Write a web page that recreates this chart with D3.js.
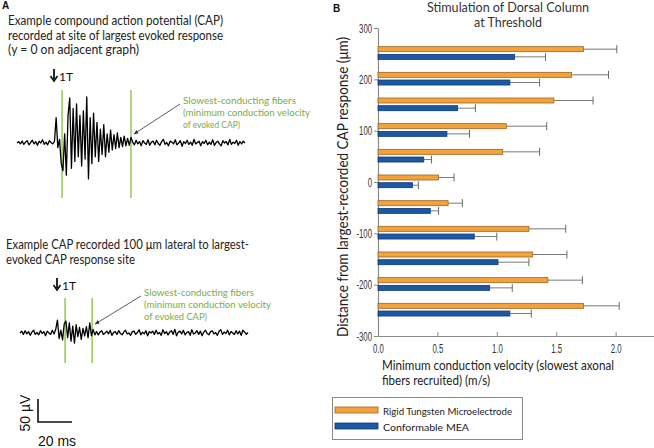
<!DOCTYPE html>
<html>
<head>
<meta charset="utf-8">
<script src="https://cdn.jsdelivr.net/npm/d3@7"></script>
<style>
  body { margin: 0; background: #fff; }
  svg { display: block; }
</style>
</head>
<body>
<div id="chart"></div>
<script>
// ---- data (panel B) ----
var positions = [250, 200, 150, 100, 50, 0, -50, -100, -150, -200, -250];
var tungstenMean = [1.73, 1.63, 1.48, 1.08, 1.05, 0.51, 0.59, 1.27, 1.30, 1.43, 1.73];
var tungstenErr = [0.28, 0.31, 0.33, 0.34, 0.31, 0.13, 0.12, 0.31, 0.29, 0.29, 0.30];
var meaMean = [1.15, 1.11, 0.67, 0.58, 0.385, 0.29, 0.44, 0.81, 1.01, 0.94, 1.11];
var meaErr = [0.26, 0.25, 0.15, 0.19, 0.065, 0.05, 0.07, 0.19, 0.26, 0.19, 0.18];
var yTicks = [300, 200, 100, 0, -100, -200, -300];
var xTicks = [0, 0.5, 1.0, 1.5, 2.0];
var seriesNames = ["Rigid Tungsten Microelectrode", "Conformable MEA"];

// ---- data (panel A), CAP traces in microvolts, one sample per ms ----
var capLargest = [0, 3, -2, 4, -3, 2, 5, -4, 1, 6, -2, 3, -5, 4, 0, 7, -3, 2, -4, 5, 1, -2, 3,
  55, -10, 8, -45, -60, 20, -70, 60, 98, -55, 75, -40, 85, -30, 60, -50, 70, -35, 100, -78,
  55, -45, 65, -30, 45, -40, 30, -25, 40, -30, 20, -20, 28, -15, 18, -12, 22, -10, 12, -8,
  15, -6, 10, -5, 12, 2,
  -4, 6, -2, 3, -6, 5, 0, -3, 7, -5, 2, 4, -4, 6, -1, -5, 3, 8, -3, 1, -6, 4, 2, -2, 7, -4,
  0, 5, -7, 3, -1, 6, -3, 2, -5, 8, -2, 1, 4, -6, 3, -1, 6, -4, 2, -3, 7, -5, 1, 4, -2, -6,
  5, 0, 3, -4, 8, -3, 2, -1, 6, -5, 3, -2, 4, 0];
var capLateral = [0, 4, -3, 5, -2, 3, -5, 2, 6, -3, 1, -4, 5, -1, 3, -6, 4, 0, -3, 6, -2,
  8, 28, -12, 6, -15, 20, 26, -10, 22, -18, 15, -22, 18, -8, 12, -14, 10, -6, 14, -10, 22, -6, 8, -4,
  3, -4, 2, 5, -3, 0, 4, -2, 6, -5, 1, 3, -3, 5, -1, -4, 2, 6, -2, 0, -5, 3, 4, -3, 1, 7,
  -4, 2, -2, 5, -6, 3, 0, 4, -3, 6, -2, 1, -5, 7, -1, 3, -4, 2, 5, -3, 8, -6, 2, 4, -2, 6,
  -4, 1, 3, -5, 7, -2, 0, 5, -3, 4, -6, 2, 6, -1, -4, 3, 5, -2, 1, -5, 4, 7, -3, 2, -1, 6,
  -4, 3, 0, -3, 5, -2, 4, -5, 6, 2, -3, 1];
var capLargestMarks = [26.5, 67];   // ms
var capLateralMarks = [26.5, 42.4]; // ms

var W = 654, H = 448;
var orange = "#f6a23b", orangeLine = "#9a6526";
var blue = "#1c58a4", blueLine = "#0d3a74";
var green = "#9acb5f", greenText = "#78ad44";
var textFont = "Lato, 'Open Sans', sans-serif";
var narrowFont = "'Liberation Sans', Arial, sans-serif";

var svg = d3.select("#chart").append("svg").attr("width", W).attr("height", H);

svg.append("defs").append("marker")
  .attr("id", "arrow").attr("viewBox", "0 0 10 10").attr("refX", 9).attr("refY", 5)
  .attr("markerWidth", 6).attr("markerHeight", 6).attr("orient", "auto")
  .append("path").attr("d", "M0,1 L10,5 L0,9 z").attr("fill", "#333");

// text helper: centered vertically on y, squeezed to width w if given
function label(txt, x, y, size, w, color, anchor) {
  var t = svg.append("text").text(txt)
    .attr("x", x).attr("y", y)
    .attr("dominant-baseline", "central")
    .attr("font-family", textFont).attr("font-size", size + "px")
    .attr("fill", color || "#222")
    .attr("text-anchor", anchor || "start");
  if (w) t.attr("textLength", w).attr("lengthAdjust", "spacingAndGlyphs");
  return t;
}

// ================= panel A =================
svg.append("text").text("A").attr("x", 2).attr("y", 9)
  .attr("font-family", "'Liberation Sans', Arial, sans-serif").attr("font-weight", "bold")
  .attr("font-size", "10px").attr("fill", "#111");

label("Example compound action potential (CAP)", 8, 20, 13.5, 215);
label("recorded at site of largest evoked response", 8, 34.5, 13.5, 215);
label("(y = 0 on adjacent graph)", 8, 49, 13.5, 131);

label("Example CAP recorded 100 \u03bcm lateral to largest-", 6, 244, 13.5, 243);
label("evoked CAP response site", 6, 258.5, 13.5, 129);

var uvToPx = d3.scaleLinear().domain([0, 50]).range([0, -23]);

function drawTrace(values, marks, x0, x1, baseY, markTop, markBottom, stimY, note) {
  var tx = d3.scaleLinear().domain([0, 134]).range([x0, x1]);
  var g = svg.append("g").attr("transform", "translate(0," + baseY + ")");
  g.selectAll("line.mark").data(marks).enter().append("line")
    .attr("class", "mark")
    .attr("x1", function(d) { return tx(d); }).attr("x2", function(d) { return tx(d); })
    .attr("y1", markTop - baseY).attr("y2", markBottom - baseY)
    .attr("stroke", green).attr("stroke-width", 1.6);
  var line = d3.line()
    .x(function(d, i) { return tx(i); })
    .y(function(d) { return uvToPx(d); });
  g.append("path").datum(values).attr("d", line)
    .attr("fill", "none").attr("stroke", "#000").attr("stroke-width", 1.3)
    .attr("stroke-linejoin", "round");

  // stimulus marker: arrow + "1T"
  var sx = tx(0) + 37;
  svg.append("path")
    .attr("d", "M" + sx + "," + (stimY - 6) + " V" + (stimY + 4))
    .attr("stroke", "#111").attr("stroke-width", 1.8);
  svg.append("path")
    .attr("d", "M" + (sx - 3.5) + "," + (stimY + 1) + " L" + sx + "," + (stimY + 6) +
      " L" + (sx + 3.5) + "," + (stimY + 1))
    .attr("fill", "none").attr("stroke", "#111").attr("stroke-width", 1.6);
  label("1T", sx + 5, stimY + 1, 12, null, "#111");

  // annotation
  label("Slowest-conducting fibers", note.x, note.y, 10, note.w[0], greenText);
  label("(minimum conduction velocity", note.x, note.y + 12, 10, note.w[1], greenText);
  label("of evoked CAP)", note.x, note.y + 24, 10, note.w[2], greenText);
  svg.append("line")
    .attr("x1", note.x - 3).attr("y1", note.y + 4)
    .attr("x2", tx(marks[1]) + 3).attr("y2", baseY - 9)
    .attr("stroke", "#333").attr("stroke-width", 0.8)
    .attr("marker-end", "url(#arrow)");
  return tx;
}

var tx1 = drawTrace(capLargest, capLargestMarks, 17, 245, 143, 90, 198, 75,
  { x: 183, y: 100, w: [113, 127, 57] });
drawTrace(capLateral, capLateralMarks, 20, 248, 333, 298, 363, 284,
  { x: 144, y: 292, w: [110, 127, 63] });

// scale bar: 20 ms, 50 uV
var sbX = 38, sbY = 422;
var sbW = tx1(20) - tx1(0);
svg.append("path")
  .attr("d", "M" + sbX + "," + (sbY + uvToPx(50)) + " V" + sbY + " H" + (sbX + sbW))
  .attr("fill", "none").attr("stroke", "#111").attr("stroke-width", 1.6);
svg.append("text").text("20 ms").attr("x", sbX).attr("y", 441)
  .attr("dominant-baseline", "central")
  .attr("font-family", "'Liberation Sans', Arial, sans-serif").attr("font-size", "14px")
  .attr("fill", "#111");
svg.append("text").text("50 \u00b5V")
  .attr("transform", "translate(25,413) rotate(-90)")
  .attr("text-anchor", "middle").attr("dominant-baseline", "central")
  .attr("font-family", "'Liberation Sans', Arial, sans-serif").attr("font-size", "14px")
  .attr("fill", "#111");

// ================= panel B =================
svg.append("text").text("B").attr("x", 333).attr("y", 12)
  .attr("font-family", "'Liberation Sans', Arial, sans-serif").attr("font-weight", "bold")
  .attr("font-size", "10px").attr("fill", "#111");

label("Stimulation of Dorsal Column", 508, 7, 13, 162, "#333", "middle");
label("at Threshold", 508, 22, 13, 68, "#333", "middle");

var x = d3.scaleLinear().domain([0, 2.323]).range([378, 654]);
var y = d3.scaleLinear().domain([-300, 300]).range([336, 28]);

var yAxis = svg.append("g").attr("transform", "translate(378,0)")
  .call(d3.axisLeft(y).tickValues(yTicks).tickSize(4).tickSizeOuter(0)
    .tickFormat(function(d) { return String(d); }));
var xAxis = svg.append("g").attr("transform", "translate(0,336)")
  .call(d3.axisBottom(x).tickValues(xTicks).tickSize(-4).tickSizeOuter(0)
    .tickFormat(d3.format(".1f")));
[xAxis, yAxis].forEach(function(a) {
  a.select(".domain").attr("stroke", "#8a8a8a").attr("stroke-width", 1.2);
  a.selectAll(".tick line").attr("stroke", "#8a8a8a");
  a.selectAll(".tick text").attr("font-family", narrowFont).attr("font-size", "12.5px")
    .attr("fill", "#333")
    .each(function() {
      // condensed look: squeeze glyphs horizontally
      var len = this.getComputedTextLength();
      d3.select(this).attr("textLength", len * 0.62).attr("lengthAdjust", "spacingAndGlyphs");
    });
});
xAxis.selectAll(".tick text").attr("y", 8).attr("dy", "0.71em");
yAxis.selectAll(".tick text").attr("x", -6);

var rows = positions.map(function(p, i) {
  return { pos: p, t: tungstenMean[i], te: tungstenErr[i], m: meaMean[i], me: meaErr[i] };
});

function drawSeries(key, errKey, offset, h, fill, stroke) {
  var g = svg.append("g");
  g.selectAll("line.err").data(rows).enter().append("line")
    .attr("x1", function(d) { return x(d[key]); })
    .attr("x2", function(d) { return x(d[key] + d[errKey]); })
    .attr("y1", function(d) { return y(d.pos) + offset + h / 2; })
    .attr("y2", function(d) { return y(d.pos) + offset + h / 2; })
    .attr("stroke", "#7a7a7a").attr("stroke-width", 1);
  g.selectAll("line.cap").data(rows).enter().append("line")
    .attr("x1", function(d) { return x(d[key] + d[errKey]); })
    .attr("x2", function(d) { return x(d[key] + d[errKey]); })
    .attr("y1", function(d) { return y(d.pos) + offset + h / 2 - 4; })
    .attr("y2", function(d) { return y(d.pos) + offset + h / 2 + 4; })
    .attr("stroke", "#6a6a6a").attr("stroke-width", 1);
  g.selectAll("rect").data(rows).enter().append("rect")
    .attr("x", x(0))
    .attr("y", function(d) { return y(d.pos) + offset; })
    .attr("width", function(d) { return x(d[key]) - x(0); })
    .attr("height", h)
    .attr("fill", fill).attr("stroke", stroke).attr("stroke-width", 0.8);
}
drawSeries("t", "te", -7, 5, orange, orangeLine);
drawSeries("m", "me", 0.7, 5, blue, blueLine);

// axis titles
svg.append("text").text("Distance from largest-recorded CAP response (\u03bcm)")
  .attr("transform", "translate(342,187) rotate(-90)")
  .attr("text-anchor", "middle").attr("dominant-baseline", "central")
  .attr("font-family", textFont).attr("font-size", "15px").attr("fill", "#222")
  .attr("textLength", 300).attr("lengthAdjust", "spacingAndGlyphs");
label("Minimum conduction velocity (slowest axonal", 382, 365, 13.5, 232);
label("fibers recruited) (m/s)", 382, 380, 13.5, 108);

// legend
svg.append("rect").attr("x", 332.5).attr("y", 397.5).attr("width", 190).attr("height", 42)
  .attr("fill", "#fff").attr("stroke", "#8a8a8a").attr("stroke-width", 1);
var legend = svg.selectAll("g.leg").data(seriesNames).enter().append("g")
  .attr("transform", function(d, i) { return "translate(335," + (407 + i * 16) + ")"; });
legend.append("rect").attr("width", 43).attr("height", 6)
  .attr("fill", function(d, i) { return i === 0 ? orange : blue; })
  .attr("stroke", function(d, i) { return i === 0 ? orangeLine : blueLine; })
  .attr("stroke-width", 0.8);
legend.append("text").text(function(d) { return d; })
  .attr("x", 48).attr("y", 3.5).attr("dominant-baseline", "central")
  .attr("font-family", textFont).attr("font-size", "10px").attr("fill", "#222")
  .attr("textLength", function(d, i) { return i === 0 ? 129 : 86; })
  .attr("lengthAdjust", "spacingAndGlyphs");
</script>
</body>
</html>
